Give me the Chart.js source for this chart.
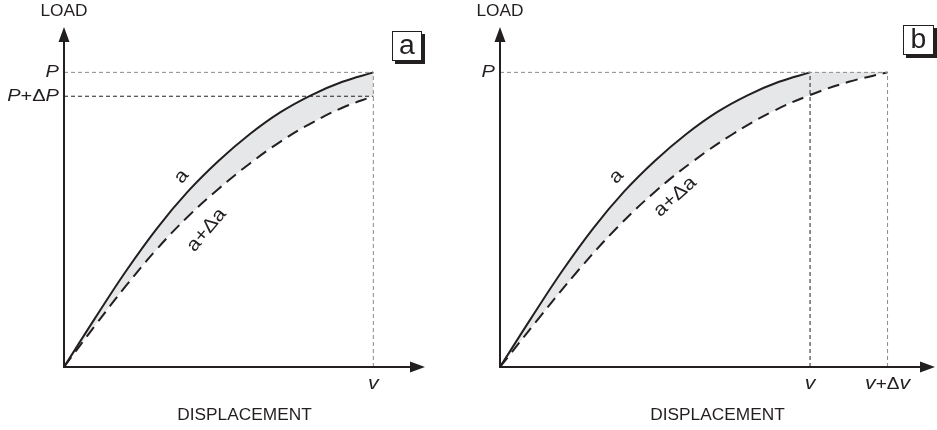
<!DOCTYPE html>
<html>
<head>
<meta charset="utf-8">
<script src="https://cdn.jsdelivr.net/npm/chart.js@4"></script>
<style>
  body { margin: 0; background: #fff; }
  #wrap { position: relative; width: 937px; height: 430px; }
  canvas { position: absolute; top: 0; }
</style>
</head>
<body>
<div id="wrap">
  <canvas id="chartA" width="460" height="430" style="left:0"></canvas>
  <canvas id="chartB" width="477" height="430" style="left:460px"></canvas>
</div>
<script>
// values (displacement: v = 100, load: P = 100)
const dispSolid = [0, 10, 20, 30, 40, 50, 60, 70, 80, 90, 100];
const loadSolid = [0, 16.5, 32.5, 47, 59.5, 70, 79, 86.5, 92.3, 96.8, 100];
// panel a: crack a+da at the same displacement v
const loadDashedA = [0, 14, 27.5, 40, 51, 60.5, 69, 76.5, 82.8, 88, 91.9];
// panel b: crack a+da at the same load P
const dispDashedB = [0, 12.5, 25, 37.5, 50, 62.5, 75, 87.5, 100, 112.5, 125];
const loadDashedB = [0, 16.5, 32.5, 47, 59.5, 70, 79, 86.5, 92.3, 96.8, 100];

const P = 100, P_dP = 91.9, V = 100, V_dV = 125;

const INK = '#231f20', GREY = '#8a8a8a', FILL = '#e6e7e8';
const FONT = '"Liberation Sans", Arial, sans-serif';

const pts = (xs, ys) => xs.map((x, i) => ({x: x, y: ys[i]}));

function curve(data, dashed, extra) {
  return Object.assign({
    data: data,
    borderColor: INK,
    borderWidth: 2,
    borderDash: dashed ? [12, 7] : [],
    pointRadius: 0,
    tension: 0.4,
    clip: false,
    fill: false
  }, extra || {});
}

function guide(data, color) {
  return {
    data: data, borderColor: color, borderWidth: 1, borderDash: [4, 3],
    pointRadius: 0, fill: false, clip: false, order: 0
  };
}

// parts: [text, italic, size]; text is stretched sideways a little like the original artwork
function richText(ctx, parts, x, y, align, size, sx) {
  const fontOf = p => (p[1] ? 'italic ' : '') + (p[2] || size) + 'px ' + FONT;
  const widths = parts.map(p => { ctx.font = fontOf(p); return ctx.measureText(p[0]).width; });
  const total = widths.reduce((s, w) => s + w, 0);
  let cx = align === 'right' ? -total : align === 'center' ? -total / 2 : 0;
  ctx.save();
  ctx.translate(x, y);
  ctx.scale(sx, 1);
  ctx.textAlign = 'left';
  parts.forEach((p, i) => {
    ctx.font = fontOf(p);
    ctx.fillText(p[0], cx, 0);
    cx += widths[i];
  });
  ctx.restore();
}

const sketch = {
  id: 'sketch',
  afterDatasetsDraw(chart, args, o) {
    const {ctx, chartArea: a, scales: {x, y}} = chart;
    const x0 = x.getPixelForValue(0), y0 = y.getPixelForValue(0);
    ctx.save();
    ctx.strokeStyle = INK;
    ctx.fillStyle = INK;
    // axes with arrows
    ctx.lineWidth = 2;
    ctx.beginPath();
    ctx.moveTo(x0, y0); ctx.lineTo(x0, a.top + 12);
    ctx.moveTo(x0 - 1, y0); ctx.lineTo(a.right - 12, y0);
    ctx.stroke();
    ctx.beginPath();
    ctx.moveTo(x0, a.top); ctx.lineTo(x0 - 5.5, a.top + 15); ctx.lineTo(x0 + 5.5, a.top + 15); ctx.closePath();
    ctx.moveTo(a.right, y0); ctx.lineTo(a.right - 15, y0 - 5.5); ctx.lineTo(a.right - 15, y0 + 5.5); ctx.closePath();
    ctx.fill();

    ctx.textBaseline = 'middle';
    richText(ctx, [['LOAD', 0]], x0, 12, 'center', 16, 1.08);
    richText(ctx, [['DISPLACEMENT', 0]], (a.left + a.right) / 2, 416, 'center', 16, 1.08);

    o.yLabels.forEach(l => richText(ctx, l.parts, x0 - 5, y.getPixelForValue(l.value), 'right', 17, 1.18));
    o.xLabels.forEach(l => richText(ctx, l.parts, x.getPixelForValue(l.value), y0 + 17, 'center', 17, 1.12));

    o.curveLabels.forEach(l => {
      ctx.save();
      ctx.translate(x.getPixelForValue(l.x), y.getPixelForValue(l.y));
      ctx.rotate(l.angle * Math.PI / 180);
      richText(ctx, l.parts, 0, 0, 'center', 19, 1.12);
      ctx.restore();
    });

    // boxed panel letter with shadow
    const b = o.box;
    ctx.fillRect(b.x + 3, b.y + 3, b.w, b.h);
    ctx.fillStyle = '#fff';
    ctx.fillRect(b.x, b.y, b.w, b.h);
    ctx.lineWidth = 1;
    ctx.strokeRect(b.x + 0.5, b.y + 0.5, b.w - 1, b.h - 1);
    ctx.fillStyle = INK;
    richText(ctx, [[b.text, 0]], b.x + b.w / 2, b.y + b.h / 2 + 1, 'center', 27, 1.05);
    ctx.restore();
  }
};

function makeChart(id, datasets, xMax, yMax, padding, sk) {
  return new Chart(document.getElementById(id), {
    type: 'line',
    data: {datasets: datasets},
    options: {
      responsive: false,
      animation: false,
      devicePixelRatio: 1,
      layout: {padding: padding},
      scales: {
        x: {type: 'linear', min: 0, max: xMax, display: false},
        y: {type: 'linear', min: 0, max: yMax, display: false}
      },
      plugins: {legend: {display: false}, tooltip: {enabled: false}, sketch: sk}
    },
    plugins: [sketch]
  });
}

makeChart('chartA', [
  curve(pts(dispSolid, loadSolid), false, {fill: 1, backgroundColor: FILL, order: 2}),
  curve(pts(dispSolid, loadDashedA), true, {order: 1}),
  guide([{x: 0, y: P}, {x: V, y: P}], GREY),
  guide([{x: 0, y: P_dP}, {x: V, y: P_dP}], INK),
  guide([{x: V, y: 0}, {x: V, y: P}], GREY)
], 116.7, 115.4, {left: 64, right: 35, top: 27, bottom: 63}, {
  yLabels: [
    {parts: [['P', 1]], value: P},
    {parts: [['P', 1], ['+', 0], ['\u0394', 0], ['P', 1]], value: P_dP}
  ],
  xLabels: [{parts: [['v', 1, 19]], value: V}],
  curveLabels: [
    {parts: [['a', 0]], x: 38, y: 64.6, angle: -50},
    {parts: [['a', 0], ['+', 0], ['\u0394', 0], ['a', 0]], x: 46.1, y: 46.5, angle: -50}
  ],
  box: {text: 'a', x: 392, y: 31, w: 30, h: 30}
});

makeChart('chartB', [
  curve(pts(dispSolid, loadSolid), false, {fill: 1, backgroundColor: FILL, order: 2}),
  curve(pts(dispDashedB, loadDashedB), true, {order: 1}),
  curve([{x: V, y: P}, {x: V_dV, y: P}], false, {fill: 1, backgroundColor: FILL, borderColor: 'transparent', order: 3}),
  guide([{x: 0, y: P}, {x: V_dV, y: P}], GREY),
  guide([{x: V, y: 0}, {x: V, y: P}], INK),
  guide([{x: V_dV, y: 0}, {x: V_dV, y: P}], GREY)
], 140.3, 115.4, {left: 40, right: 2, top: 27, bottom: 63}, {
  yLabels: [{parts: [['P', 1]], value: P}],
  xLabels: [
    {parts: [['v', 1, 19]], value: V},
    {parts: [['v', 1, 19], ['+', 0], ['\u0394', 0], ['v', 1, 19]], value: V_dV}
  ],
  curveLabels: [
    {parts: [['a', 0]], x: 37.6, y: 64.6, angle: -45},
    {parts: [['a', 0], ['+', 0], ['\u0394', 0], ['a', 0]], x: 56.5, y: 57.8, angle: -42}
  ],
  box: {text: 'b', x: 443, y: 25, w: 31, h: 30}
});
</script>
</body>
</html>
